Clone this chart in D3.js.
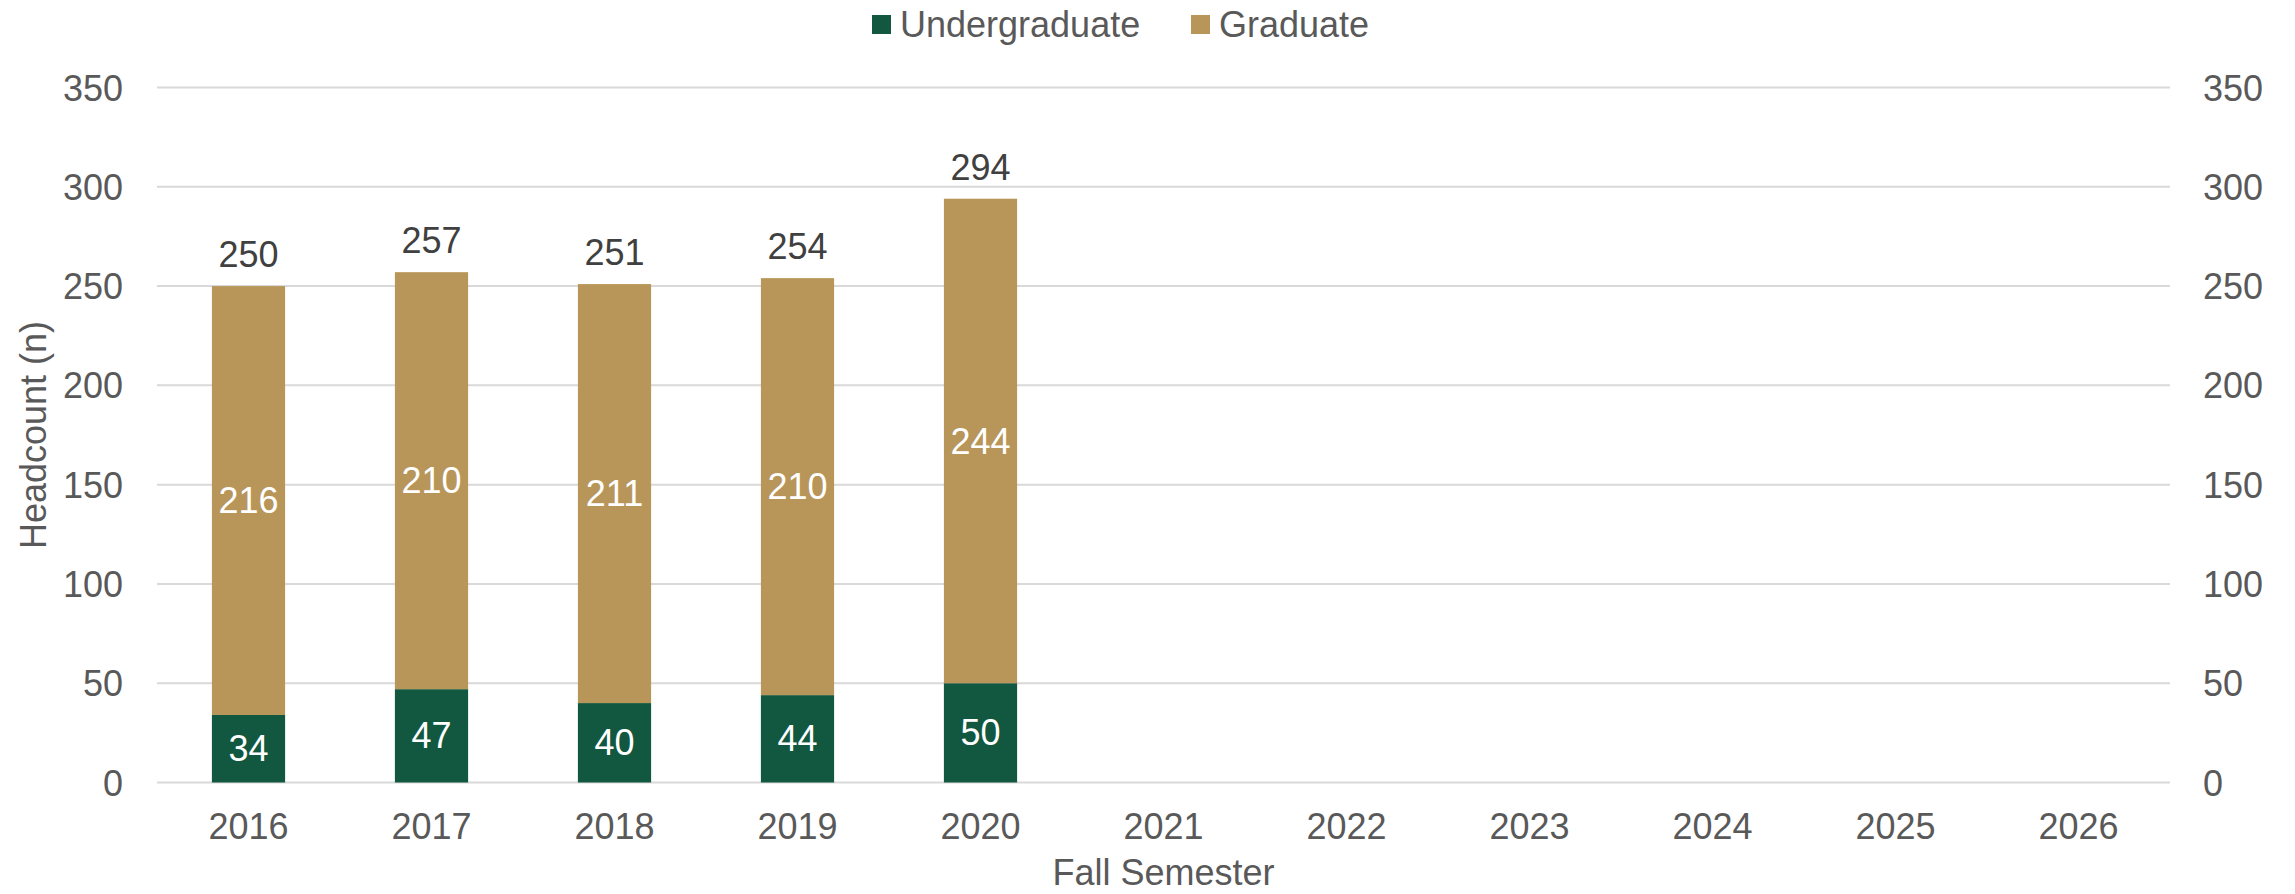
<!DOCTYPE html>
<html><head><meta charset="utf-8">
<script src="https://cdn.jsdelivr.net/npm/d3@7"></script>
<style>body{margin:0;background:#fff}svg{display:block;font-family:"Liberation Sans",Arial,sans-serif}</style>
</head><body>
<svg id="c" width="2295" height="894"></svg>
<script>
const categories = ["2016","2017","2018","2019","2020","2021","2022","2023","2024","2025","2026"];
const undergraduate = [34,47,40,44,50,null,null,null,null,null,null];
const graduate = [216,210,211,210,244,null,null,null,null,null,null];
const yTicks = [0,50,100,150,200,250,300,350];
const seriesNames = ["Undergraduate","Graduate"];
const colors = {Undergraduate:"#12573F", Graduate:"#B8965A"};

(function(){
const svg = d3.select("#c");
const pl = 157, pr = 2170, pt = 87.5, pb = 782.5;
const x = d3.scaleBand().domain(categories).range([pl,pr]).paddingInner(0.6).paddingOuter(0.3);
const y = d3.scaleLinear().domain([0,350]).range([pb,pt]);

// gridlines
svg.append("g").selectAll("line").data(yTicks).join("line")
  .attr("x1",pl).attr("x2",pr).attr("y1",d=>y(d)).attr("y2",d=>y(d))
  .attr("stroke","#D9D9D9").attr("stroke-width",2);

// axes labels
const gl = svg.append("g").attr("transform","translate(123,0)").call(d3.axisLeft(y).tickValues(yTicks).tickSize(0).tickPadding(0));
const gr = svg.append("g").attr("transform","translate(2203,0)").call(d3.axisRight(y).tickValues(yTicks).tickSize(0).tickPadding(0));
const gx = svg.append("g").attr("transform",`translate(0,${pb})`).call(d3.axisBottom(x).tickSize(0).tickPadding(0));
[gl,gr,gx].forEach(g=>{g.select(".domain").remove(); g.selectAll("text").attr("fill","#595959").attr("font-size",36).attr("font-family","Liberation Sans, Arial, sans-serif");});
gl.selectAll("text").attr("dy","0.35em").attr("x",0);
gr.selectAll("text").attr("dy","0.35em").attr("x",0);
gx.selectAll("text").attr("dy",0).attr("y",56);

// stacked bars
const rows = categories.map((c,i)=>({cat:c, Undergraduate:undergraduate[i], Graduate:graduate[i]}));
const stack = d3.stack().keys(seriesNames).value((d,k)=>d[k]==null?0:d[k]);
const layers = stack(rows);
layers.forEach(layer=>{
  const key = layer.key;
  const g = svg.append("g");
  const dat = layer.filter(d=>d.data[key]!=null);
  g.selectAll("rect").data(dat).join("rect")
    .attr("x",d=>x(d.data.cat)).attr("width",x.bandwidth())
    .attr("y",d=>y(d[1])).attr("height",d=>y(d[0])-y(d[1]))
    .attr("fill",colors[key]);
  g.selectAll("text").data(dat).join("text")
    .attr("x",d=>x(d.data.cat)+x.bandwidth()/2)
    .attr("y",d=>(y(d[0])+y(d[1]))/2).attr("dy","0.35em")
    .attr("text-anchor","middle").attr("fill","#fff").attr("font-size",36)
    .text(d=>d.data[key]);
});
// totals
const totals = rows.filter(r=>r.Undergraduate!=null).map(r=>({cat:r.cat, total:r.Undergraduate+r.Graduate}));
svg.append("g").selectAll("text").data(totals).join("text")
  .attr("x",d=>x(d.cat)+x.bandwidth()/2).attr("y",d=>y(d.total)-19)
  .attr("text-anchor","middle").attr("fill","#404040").attr("font-size",36)
  .text(d=>d.total);

// axis titles
svg.append("text").attr("transform","translate(46,435) rotate(-90)")
  .attr("text-anchor","middle").attr("fill","#595959").attr("font-size",36).text("Headcount (n)");
svg.append("text").attr("x",(pl+pr)/2).attr("y",885)
  .attr("text-anchor","middle").attr("fill","#595959").attr("font-size",36).text("Fall Semester");

// legend
const legX = [872, 1191];
const lg = svg.append("g");
seriesNames.forEach((s,i)=>{
  lg.append("rect").attr("x",legX[i]).attr("y",15).attr("width",19).attr("height",19).attr("fill",colors[s]);
  lg.append("text").attr("x",legX[i]+28).attr("y",37).attr("fill","#595959").attr("font-size",36).text(s);
});
})();
</script>
</body></html>
